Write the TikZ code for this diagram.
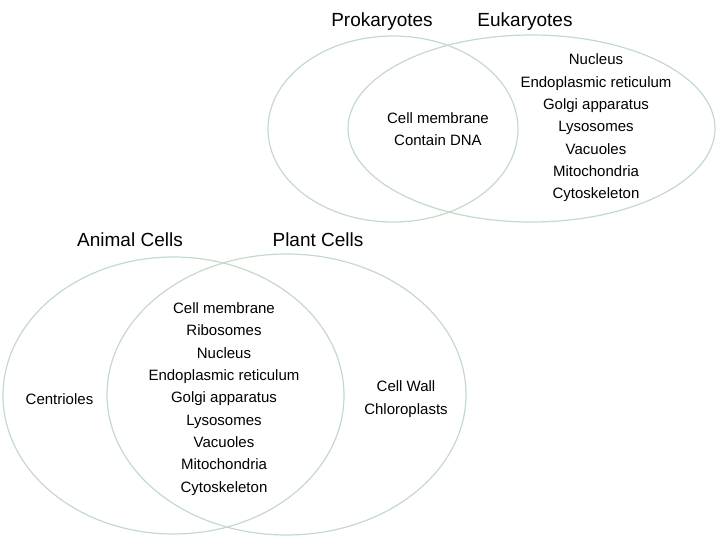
\documentclass[tikz,border=0pt]{standalone}
\usepackage{fontspec}
\setmainfont{Liberation Sans}
\definecolor{venngreen}{RGB}{196,218,200}
\begin{document}
\begin{tikzpicture}[x=1pt, y=-1pt,
    set/.style={draw=venngreen, line width=1.2pt},
    settitle/.style={font=\fontsize{19}{23}\selectfont},
    items/.style={align=center, inner sep=0pt, font=\fontsize{15}{22.3}\selectfont}]
    \useasboundingbox (0,0) rectangle (720,540);
    % Prokaryotes and eukaryotes
    \draw[set] (393,129) ellipse [x radius=125pt, y radius=93pt];
    \draw[set] (531.5,128.5) ellipse [x radius=183.5pt, y radius=93.5pt];
    \node[settitle] (proka) at (382,22) {Prokaryotes};
    \node[settitle] (euka) at (525,22) {Eukaryotes};
    \node[items] (both) at (438,129) {Cell membrane\\Contain DNA};
    \node[items] (eukonly) at (596,128) {Nucleus\\Endoplasmic reticulum\\Golgi apparatus\\Lysosomes\\Vacuoles\\Mitochondria\\Cytoskeleton};
    % Animal and plant cells
    \draw[set] (173.5,395.5) ellipse [x radius=170.5pt, y radius=138.5pt];
    \draw[set] (286.5,394.5) ellipse [x radius=179.5pt, y radius=140.5pt];
    \node[settitle] (animal) at (130,240) {Animal Cells};
    \node[settitle] (plant) at (318,240) {Plant Cells};
    \node[items] (animalonly) at (59.5,399) {Centrioles};
    \node[items] (shared) at (224,399) {Cell membrane\\Ribosomes\\Nucleus\\Endoplasmic reticulum\\Golgi apparatus\\Lysosomes\\Vacuoles\\Mitochondria\\Cytoskeleton};
    \node[items] (plantonly) at (406,399) {Cell Wall\\Chloroplasts};
\end{tikzpicture}
\end{document}
